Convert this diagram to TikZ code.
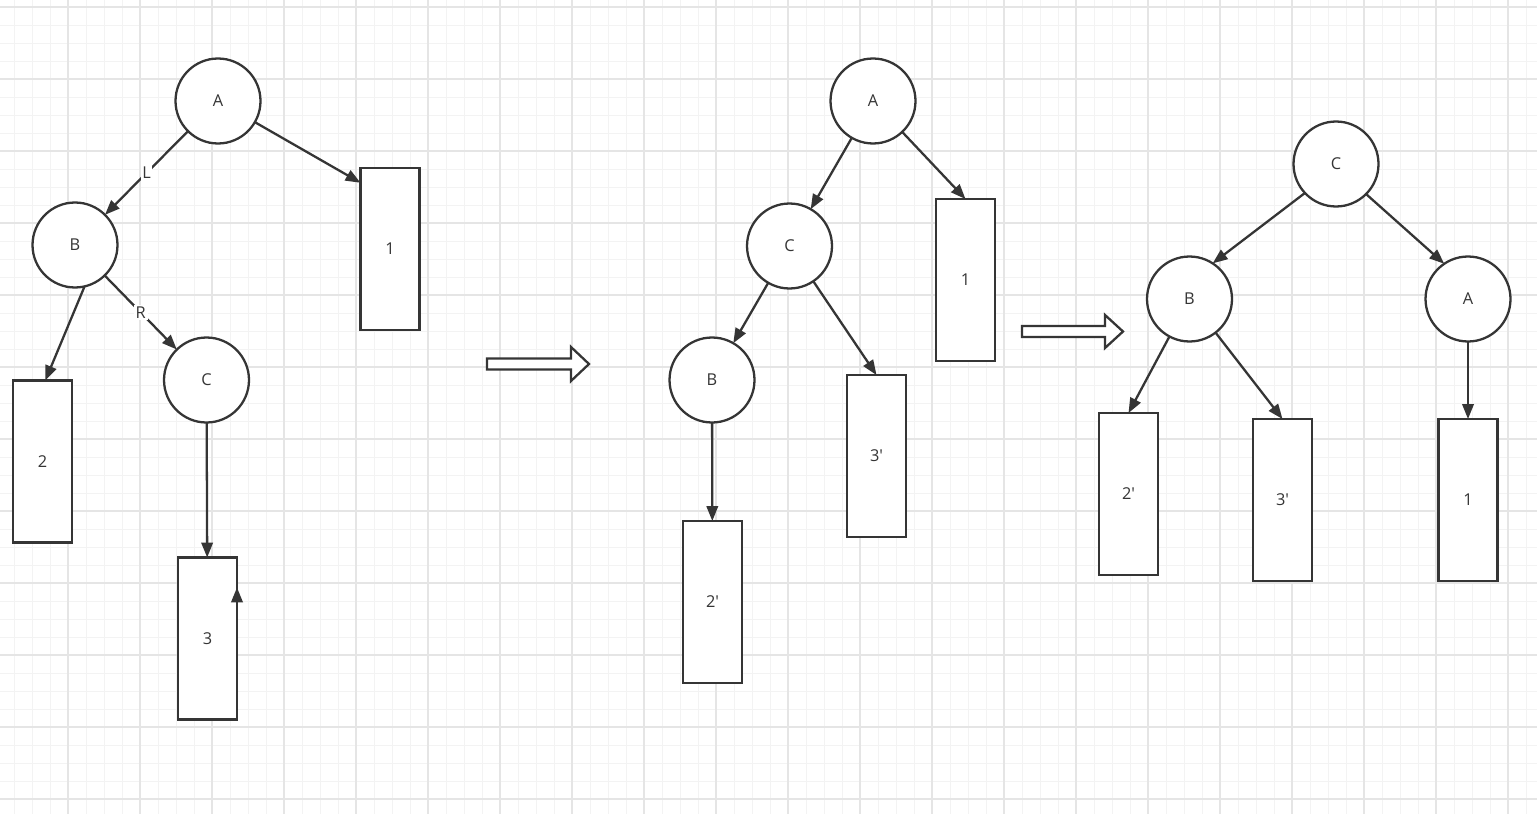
\documentclass[tikz,border=0pt]{standalone}
\usepackage{fontspec}
\setmainfont{Open Sans}
\usetikzlibrary{arrows.meta}

\definecolor{inkgray}{HTML}{353535}
\definecolor{gridminor}{HTML}{F3F3F3}
\definecolor{gridmajor}{HTML}{E5E5E5}

\begin{document}
\begin{tikzpicture}[x=0.02cm, y=-0.02cm,
    every node/.style={font=\fontsize{9.3}{11}\selectfont, text=inkgray},
    treenode/.style={circle, draw=inkgray, line width=1.3pt, fill=white, minimum size=1.7cm, inner sep=0pt, outer sep=0pt},
    subtree/.style={rectangle, draw=inkgray, line width=1.3pt, fill=white, minimum width=1.18cm, minimum height=3.24cm, inner sep=0pt, outer sep=0pt},
    edge/.style={draw=inkgray, line width=1.3pt, -{Triangle[length=8.5pt,width=6.5pt]}},
    edgelabel/.style={fill=white, inner sep=1pt},
    turn/.style={draw=inkgray, line width=1.3pt, fill=white, line join=miter}]

    \useasboundingbox (0,0) rectangle (1537,814);
    \fill[white] (0,0) rectangle (1537,814);

    % Draw the background grid
    \begin{scope}
    \clip (0,0) rectangle (1537,814);
    \foreach \i in {0,...,85} \draw[gridminor, line width=0.55pt] ({14+18*\i},0) -- ({14+18*\i},814);
    \foreach \i in {0,...,45} \draw[gridminor, line width=0.55pt] (0,{7+18*\i}) -- (1537,{7+18*\i});
    \foreach \i in {0,...,20} \draw[gridmajor, line width=0.6pt] ({68+72*\i},0) -- ({68+72*\i},814);
    \foreach \i in {0,...,11} \draw[gridmajor, line width=0.6pt] (0,{7+72*\i}) -- (1537,{7+72*\i});
    \end{scope}

    % Left tree: before the rotation
    \node[treenode] (lA) at (218,101) {A};
    \node[treenode] (lB) at (75,245) {B};
    \node[treenode] (lC) at (206.5,380) {C};
    \node[subtree] (lone) at (390,249) {1};
    \node[subtree] (ltwo) at (42.5,461.5) {2};
    \node[subtree] (lthree) at (207.5,638.5) {3};

    \draw[edge] (lA) -- node[edgelabel] {L} (lB);
    \draw[edge] (lA) -- (lone.114);
    \draw[edge] (lB.283) -- (ltwo.88);
    \draw[edge] (lB) -- node[edgelabel] {R} (lC);
    \draw[edge] (lC) -- (lthree);
    % Arrow up the right side of block 3
    \draw[edge] (lthree.south east) -- (lthree.60);

    % First hollow arrow
    \draw[turn] (487,358.5) -- (571,358.5) -- (571,347) -- (589,364) -- (571,381) -- (571,369.5) -- (487,369.5) -- cycle;

    % Middle tree: after the first rotation
    \node[treenode] (mA) at (873,101) {A};
    \node[treenode] (mC) at (789.5,246) {C};
    \node[treenode] (mB) at (712,380) {B};
    \node[subtree] (mone) at (965.5,280) {1};
    \node[subtree] (mthree) at (876.5,456) {3\textquotesingle};
    \node[subtree] (mtwo) at (712.5,602) {2\textquotesingle};

    \draw[edge] (mA) -- (mC);
    \draw[edge] (mA) -- (mone.north);
    \draw[edge] (mC) -- (mB);
    \draw[edge] (mC) -- (mthree.north);
    \draw[edge] (mB) -- (mtwo);

    % Second hollow arrow
    \draw[turn] (1022,326) -- (1105,326) -- (1105,315) -- (1123,331.5) -- (1105,348) -- (1105,337) -- (1022,337) -- cycle;

    % Right tree: after the second rotation
    \node[treenode] (rC) at (1336,164) {C};
    \node[treenode] (rB) at (1189.5,299) {B};
    \node[treenode] (rA) at (1468,299) {A};
    \node[subtree] (rtwo) at (1128.5,494) {2\textquotesingle};
    \node[subtree] (rthree) at (1282.5,500) {3\textquotesingle};
    \node[subtree] (rone) at (1468,500) {1};

    \draw[edge] (rC.223) -- (rB.57);
    \draw[edge] (rC.315) -- (rA.124);
    \draw[edge] (rB) -- (rtwo.north);
    \draw[edge] (rB) -- (rthree.north);
    \draw[edge] (rA) -- (rone);

\end{tikzpicture}
\end{document}
